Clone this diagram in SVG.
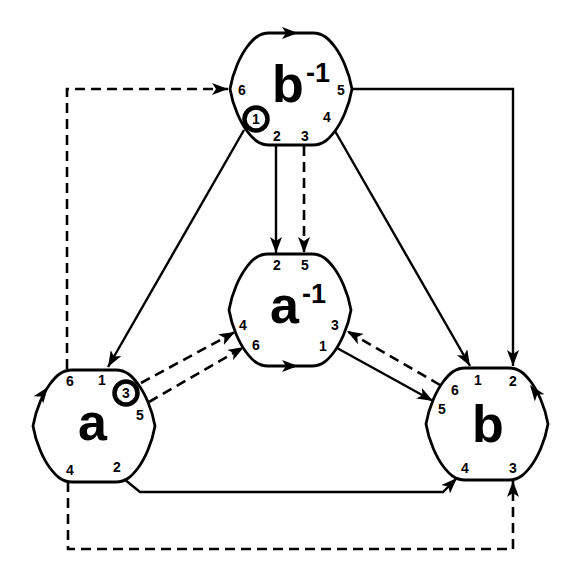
<svg xmlns="http://www.w3.org/2000/svg" xmlns:xlink="http://www.w3.org/1999/xlink" width="581" height="581" viewBox="0 0 581 581">
<style>
.hex{fill:none;stroke:#000;stroke-width:2.8}
.ln{fill:none;stroke:#000;stroke-width:2.4}
.dash{stroke-width:2.6;stroke-dasharray:10 6}
.big{font-family:"Liberation Sans",Arial,sans-serif;font-weight:bold;font-size:52px;fill:#000}
.sup{font-family:"Liberation Sans",Arial,sans-serif;font-weight:bold;font-size:27px;fill:#000}
.port{font-family:"Liberation Sans",Arial,sans-serif;font-weight:bold;font-size:14px;fill:#000;text-anchor:middle}
.ring{fill:#fff;stroke:#000;stroke-width:4.5}
</style>
<defs>
<marker id="arr" viewBox="0 0 16 12" refX="16" refY="6" markerWidth="16" markerHeight="12" markerUnits="userSpaceOnUse" orient="auto">
<path d="M0,0 L16,6 L0,12 L4,6 Z" fill="#000"/>
</marker>
<path id="hexp" d="M -22,-56 H 22 C 32,-56 38,-50 44,-42 C 50,-34 58,-18 61,0 C 58,18 50,34 44,42 C 38,50 32,56 22,56 H -22 C -32,56 -38,50 -44,42 C -50,34 -58,18 -61,0 C -58,-18 -50,-34 -44,-42 C -38,-50 -32,-56 -22,-56 Z"/>
<path id="ah" d="M-16,-6 L0,0 L-16,6 L-12,0 Z" fill="#000"/>
</defs>
<rect width="581" height="581" fill="#fff"/>
<g id="connectors">
<path class="ln dash" d="M67,369 V89 H228" marker-end="url(#arr)"/>
<path class="ln" d="M352,89 H513 V366" marker-end="url(#arr)"/>
<path class="ln" d="M335,131 L470,366" marker-end="url(#arr)"/>
<path class="ln" d="M244,130 L108,367" marker-end="url(#arr)"/>
<path class="ln" d="M276,146 V253" marker-end="url(#arr)"/>
<path class="ln dash" d="M304,146 V253" marker-end="url(#arr)"/>
<path class="ln dash" d="M141,383 L235,332" marker-end="url(#arr)"/>
<path class="ln dash" d="M149,402 L244,347" marker-end="url(#arr)"/>
<path class="ln" d="M337,348 L433,401" marker-end="url(#arr)"/>
<path class="ln dash" d="M440,385 L347,331" marker-end="url(#arr)"/>
<path class="ln" d="M124,479 L140,492 H443 L457,478" marker-end="url(#arr)"/>
<path class="ln dash" d="M68,482 V549 H513 V481" marker-end="url(#arr)"/>
</g>
<g id="node-binv">
<use xlink:href="#hexp" href="#hexp" class="hex" transform="translate(291,89)"/>
<use xlink:href="#ah" href="#ah" transform="translate(298,33)"/>
<text class="big" x="272" y="102">b</text>
<text class="sup" x="306" y="82">-1</text>
<circle class="ring" cx="256" cy="119" r="11.5"/>
<text class="port" x="256" y="124">1</text>
<text class="port" x="242" y="95">6</text>
<text class="port" x="341" y="95">5</text>
<text class="port" x="327" y="122">4</text>
<text class="port" x="277" y="141">2</text>
<text class="port" x="305" y="141">3</text>
</g>
<g id="node-ainv">
<use xlink:href="#hexp" href="#hexp" class="hex" transform="translate(290,310)"/>
<use xlink:href="#ah" href="#ah" transform="translate(298,366)"/>
<text class="big" x="270" y="323">a</text>
<text class="sup" x="302" y="303">-1</text>
<text class="port" x="277" y="270">2</text>
<text class="port" x="305" y="270">5</text>
<text class="port" x="243" y="330">4</text>
<text class="port" x="256" y="350">6</text>
<text class="port" x="335" y="330">3</text>
<text class="port" x="323" y="351">1</text>
</g>
<g id="node-a">
<use xlink:href="#hexp" href="#hexp" class="hex" transform="translate(94,426)"/>
<use xlink:href="#ah" href="#ah" transform="translate(48,387) rotate(-53)"/>
<text class="big" x="78" y="440">a</text>
<circle class="ring" cx="126" cy="393" r="11.5"/>
<text class="port" x="126" y="398">3</text>
<text class="port" x="70" y="386">6</text>
<text class="port" x="102" y="385">1</text>
<text class="port" x="140" y="420">5</text>
<text class="port" x="70" y="475">4</text>
<text class="port" x="117" y="472">2</text>
</g>
<g id="node-b">
<use xlink:href="#hexp" href="#hexp" class="hex" transform="translate(487,424)"/>
<use xlink:href="#ah" href="#ah" transform="translate(530,385) rotate(-127)"/>
<text class="big" x="472" y="442">b</text>
<text class="port" x="478" y="385">1</text>
<text class="port" x="513" y="386">2</text>
<text class="port" x="455" y="395">6</text>
<text class="port" x="442" y="414">5</text>
<text class="port" x="465" y="473">4</text>
<text class="port" x="513" y="473">3</text>
</g>
</svg>
